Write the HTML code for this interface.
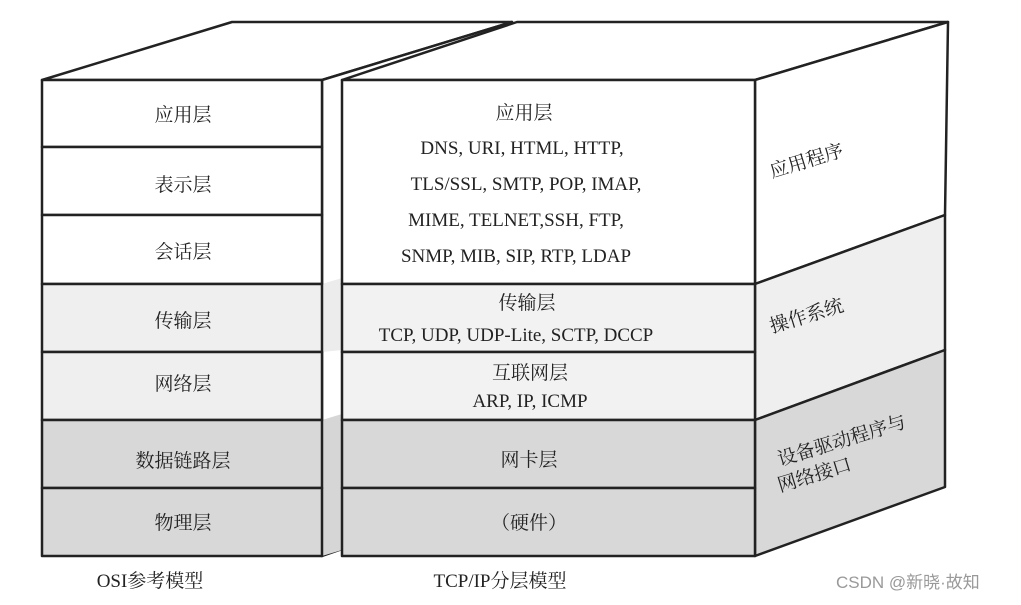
<!DOCTYPE html>
<html><head><meta charset="utf-8"><style>
body{margin:0;background:#fff;}
svg text{font-family:"Liberation Serif","Noto Serif CJK SC",serif;fill:#222;}
</style></head><body>
<svg width="1021" height="600" viewBox="0 0 1021 600" xmlns="http://www.w3.org/2000/svg">
<g stroke="#222" stroke-width="2.5" stroke-linejoin="round">
<!-- left box top -->
<polygon points="42,80 232,22 512,22 322,80" fill="#fff"/>
<!-- left box side strip -->
<polygon points="322,80 512,22 512,490 322,556" fill="#fff"/>
<polygon points="322,284 342,278 342,350 322,352" fill="#ececec" stroke="none"/>
<polygon points="322,420 342,414 342,550 322,556" fill="#d6d6d6" stroke="none"/>
<!-- left box front layers -->
<rect x="42" y="80" width="280" height="67" fill="#fff"/>
<rect x="42" y="147" width="280" height="68" fill="#fff"/>
<rect x="42" y="215" width="280" height="69" fill="#fff"/>
<rect x="42" y="284" width="280" height="68" fill="#efefef"/>
<rect x="42" y="352" width="280" height="68" fill="#efefef"/>
<rect x="42" y="420" width="280" height="68" fill="#d8d8d8"/>
<rect x="42" y="488" width="280" height="68" fill="#d8d8d8"/>
<!-- right box top -->
<polygon points="342,80 517,22 948,22 755,80" fill="#fff"/>
<!-- right side face -->
<polygon points="755,80 948,22 945,215 755,284" fill="#fff"/>
<polygon points="755,284 945,215 945,350 755,420" fill="#efefef"/>
<polygon points="755,420 945,350 945,487 755,556" fill="#d8d8d8"/>
<!-- right box front -->
<rect x="342" y="80" width="413" height="204" fill="#fff"/>
<rect x="342" y="284" width="413" height="68" fill="#f2f2f2"/>
<rect x="342" y="352" width="413" height="68" fill="#f2f2f2"/>
<rect x="342" y="420" width="413" height="68" fill="#d8d8d8"/>
<rect x="342" y="488" width="413" height="68" fill="#d8d8d8"/>
</g>
<g font-size="19" text-anchor="middle">
<text x="183" y="121">应用层</text>
<text x="183" y="191">表示层</text>
<text x="183" y="258">会话层</text>
<text x="183" y="327">传输层</text>
<text x="183" y="390">网络层</text>
<text x="183" y="467">数据链路层</text>
<text x="183" y="529">物理层</text>
<text x="524" y="119">应用层</text>
<text x="522" y="154">DNS, URI, HTML, HTTP,</text>
<text x="526" y="190">TLS/SSL, SMTP, POP, IMAP,</text>
<text x="516" y="226">MIME, TELNET,SSH, FTP,</text>
<text x="516" y="262">SNMP, MIB, SIP, RTP, LDAP</text>
<text x="527" y="309">传输层</text>
<text x="516" y="341">TCP, UDP, UDP-Lite, SCTP, DCCP</text>
<text x="530" y="379">互联网层</text>
<text x="530" y="407">ARP, IP, ICMP</text>
<text x="529" y="466">网卡层</text>
<text x="529" y="529">（硬件）</text>
<text x="150" y="587">OSI参考模型</text>
<text x="500" y="587">TCP/IP分层模型</text>
</g>
<g font-size="19">
<text transform="translate(772,178) rotate(-17)">应用程序</text>
<text transform="translate(772,333) rotate(-17)">操作系统</text>
<text transform="translate(780,466) rotate(-17)">设备驱动程序与</text>
<text transform="translate(780,492) rotate(-17)">网络接口</text>
</g>
<text x="836" y="588" font-size="17" style="font-family:'Liberation Sans','Noto Sans CJK SC',sans-serif;fill:#999">CSDN @新晓·故知</text>
</svg>
</body></html>
